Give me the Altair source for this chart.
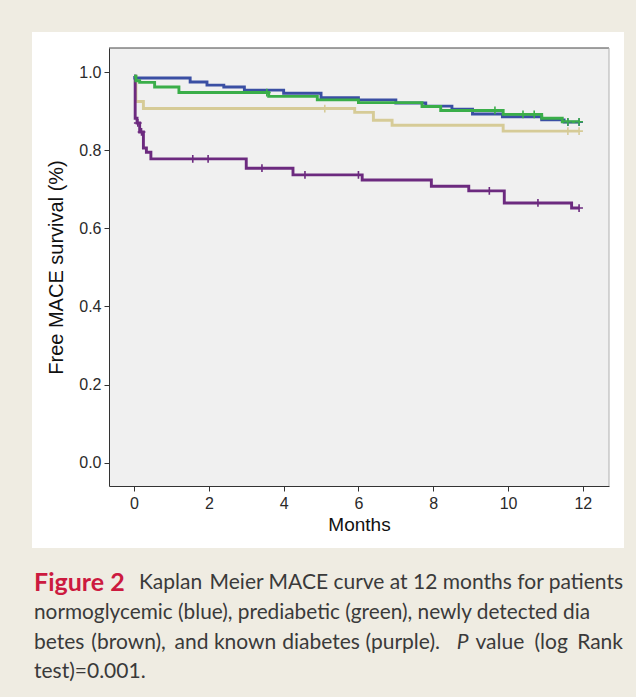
import altair as alt
import pandas as pd

# ---------------- data ----------------
blue_t = [0, 0.02, 1.5, 1.95, 2.4, 2.95, 4.0, 5.0, 6.0, 7.0, 7.8, 8.5, 9.05, 9.85, 10.9, 11.5, 11.9]
blue_s = [0.99, 0.985, 0.975, 0.967, 0.962, 0.954, 0.946, 0.935, 0.929, 0.921, 0.913, 0.905, 0.893, 0.886, 0.878, 0.872, 0.872]

green_t = [0, 0.05, 0.15, 0.55, 1.2, 3.6, 4.9, 6.0, 7.7, 8.2, 9.87, 10.9, 11.45, 11.9]
green_s = [0.99, 0.978, 0.974, 0.962, 0.948, 0.938, 0.929, 0.922, 0.912, 0.902, 0.892, 0.882, 0.873, 0.873]

tan_t = [0, 0.05, 0.25, 5.9, 6.4, 6.9, 9.87, 11.9]
tan_s = [0.99, 0.925, 0.907, 0.897, 0.877, 0.864, 0.849, 0.849]

purple_t = [0, 0.03, 0.08, 0.15, 0.25, 0.33, 0.45, 3.0, 4.25, 6.1, 7.95, 8.95, 9.9, 11.7, 11.9]
purple_s = [0.99, 0.882, 0.87, 0.847, 0.806, 0.795, 0.778, 0.754, 0.737, 0.724, 0.708, 0.696, 0.665, 0.652, 0.652]

blue_c = [11.6, 11.9]
green_c = [3.55, 9.65, 10.4, 10.7, 11.6, 11.9]
tan_c = [5.1, 11.6, 11.9]
purple_c = [0.1, 0.2, 1.57, 1.98, 3.42, 4.57, 6.0, 9.5, 10.8, 11.9]

groups = ["newly detected diabetes", "known diabetes", "normoglycemic", "prediabetic"]
colors = ["#d6cb97", "#6c2a7f", "#3a4fa3", "#3aae49"]

x_ticks = [0, 2, 4, 6, 8, 10, 12]
y_ticks = [0.0, 0.2, 0.4, 0.6, 0.8, 1.0]

x_title = "Months"
y_title = "Free MACE survival (%)"

cap_fig = "Figure 2"
cap_l1a = "Kaplan"
cap_l1b = "Meier MACE curve at 12 months for patients"
cap_l2 = "normoglycemic (blue), prediabetic (green), newly detected dia"
cap_l3_words = ["betes", "(brown),", "and", "known", "diabetes", "(purple).", "P", "value", "(log", "Rank"]
cap_l4 = "test)=0.001."

# ---------------- tables ----------------
series = {
    groups[0]: (tan_t, tan_s, tan_c),
    groups[1]: (purple_t, purple_s, purple_c),
    groups[2]: (blue_t, blue_s, blue_c),
    groups[3]: (green_t, green_s, green_c),
}

def step_value(ts, ss, t):
    v = ss[0]
    for ti, si in zip(ts, ss):
        if ti <= t:
            v = si
    return v

line_rows, cens_rows = [], []
for gi, g in enumerate(groups):
    ts, ss, cs_ = series[g]
    for t, s in zip(ts, ss):
        line_rows.append({"group": g, "order": gi, "t": t, "s": s})
    for c in cs_:
        cens_rows.append({"group": g, "order": gi, "t": c, "s": step_value(ts, ss, c)})
lines_df = pd.DataFrame(line_rows)
cens_df = pd.DataFrame(cens_rows)

W, H = 500, 438
xs = alt.Scale(domain=[-0.67, 12.7], nice=False, zero=False)
ys = alt.Scale(domain=[-0.06, 1.062], nice=False, zero=False)
cs = alt.Scale(domain=groups, range=colors)

one = pd.DataFrame({"a": [0]})

panel = alt.Chart(one).mark_rect(fill="white", clip=False).encode(
    x=alt.value(-77), x2=alt.value(515), y=alt.value(-16), y2=alt.value(500))
plotbg = alt.Chart(one).mark_rect(fill="#f0f0f0").encode(
    x=alt.value(0), x2=alt.value(W), y=alt.value(0), y2=alt.value(H))
top_rule = alt.Chart(one).mark_rule(color="#444", strokeWidth=1).encode(
    x=alt.value(0), x2=alt.value(W), y=alt.value(0))
right_rule = alt.Chart(one).mark_rule(color="#b0b0b0", strokeWidth=1).encode(
    x=alt.value(W), y=alt.value(0), y2=alt.value(H))

axis_common = dict(grid=False, domainColor="#333", domainWidth=1, tickColor="#333",
                   tickSize=5, labelFont="Liberation Sans Narrow, Liberation Sans",
                   labelFontSize=16, labelColor="#2a2a2a", titleFont="Liberation Sans",
                   titleFontWeight="normal", titleColor="#111", zindex=1)

base_lines = alt.Chart(lines_df).mark_line(interpolate="step-after", strokeWidth=2.9).encode(
    x=alt.X("t:Q", scale=xs,
            axis=alt.Axis(values=x_ticks, format="d", title=x_title, labelPadding=4,
                          titlePadding=4, titleFontSize=19, **axis_common)),
    y=alt.Y("s:Q", scale=ys,
            axis=alt.Axis(values=y_ticks, format=".1f", title=y_title, labelPadding=3,
                          titlePadding=12, titleFontSize=20, **axis_common)),
    color=alt.Color("group:N", scale=cs, legend=None),
    detail="group:N",
    order="t:Q",
)

layers = [panel, plotbg, top_rule, right_rule]
for g in groups:
    layers.append(base_lines.transform_filter(alt.datum.group == g))

cens = alt.Chart(cens_df).mark_point(shape="M-1,0H1M0,-1V1", size=60, strokeWidth=1.6,
                                     filled=False, opacity=1).encode(
    x=alt.X("t:Q", scale=xs), y=alt.Y("s:Q", scale=ys),
    color=alt.Color("group:N", scale=cs, legend=None))
layers.append(cens)

def txt(s, x, y, color="#3a3a3a", fontSize=21, align="left", **kw):
    return alt.Chart(pd.DataFrame({"s": [s]})).mark_text(
        align=align, baseline="middle", font="Lato", fontSize=fontSize, color=color,
        clip=False, **kw).encode(x=alt.value(x), y=alt.value(y), text="s:N")

L0 = -75
R0 = 514
l3_x = [-75, -17.7, 65.6, 104.9, 173.2, 256.5, 347.8, 366.5, 425.5, R0]
layers += [
    txt(cap_fig, L0, 535, fontWeight="bold", color="#cc1a3f", fontSize=25),
    txt(cap_l1a, 30, 535),
    txt(cap_l1b, R0, 535, align="right"),
    txt(cap_l2, L0, 565, fontSize=20.8),
    txt(cap_l4, L0, 624),
]
for i, (wd, xx) in enumerate(zip(cap_l3_words, l3_x)):
    kw = {}
    if wd == "P":
        kw["fontStyle"] = "italic"
    if i == len(cap_l3_words) - 1:
        kw["align"] = "right"
    layers.append(txt(wd, xx, 595, **kw))

chart = alt.layer(*layers).properties(
    width=W, height=H,
    autosize=alt.AutoSizeParams(type="none"),
    padding={"left": 109, "top": 48, "right": 27, "bottom": 211},
    background="#efece2",
).configure_view(stroke=None)

chart.save("out.html", embed_options={"renderer": "svg", "actions": False})
